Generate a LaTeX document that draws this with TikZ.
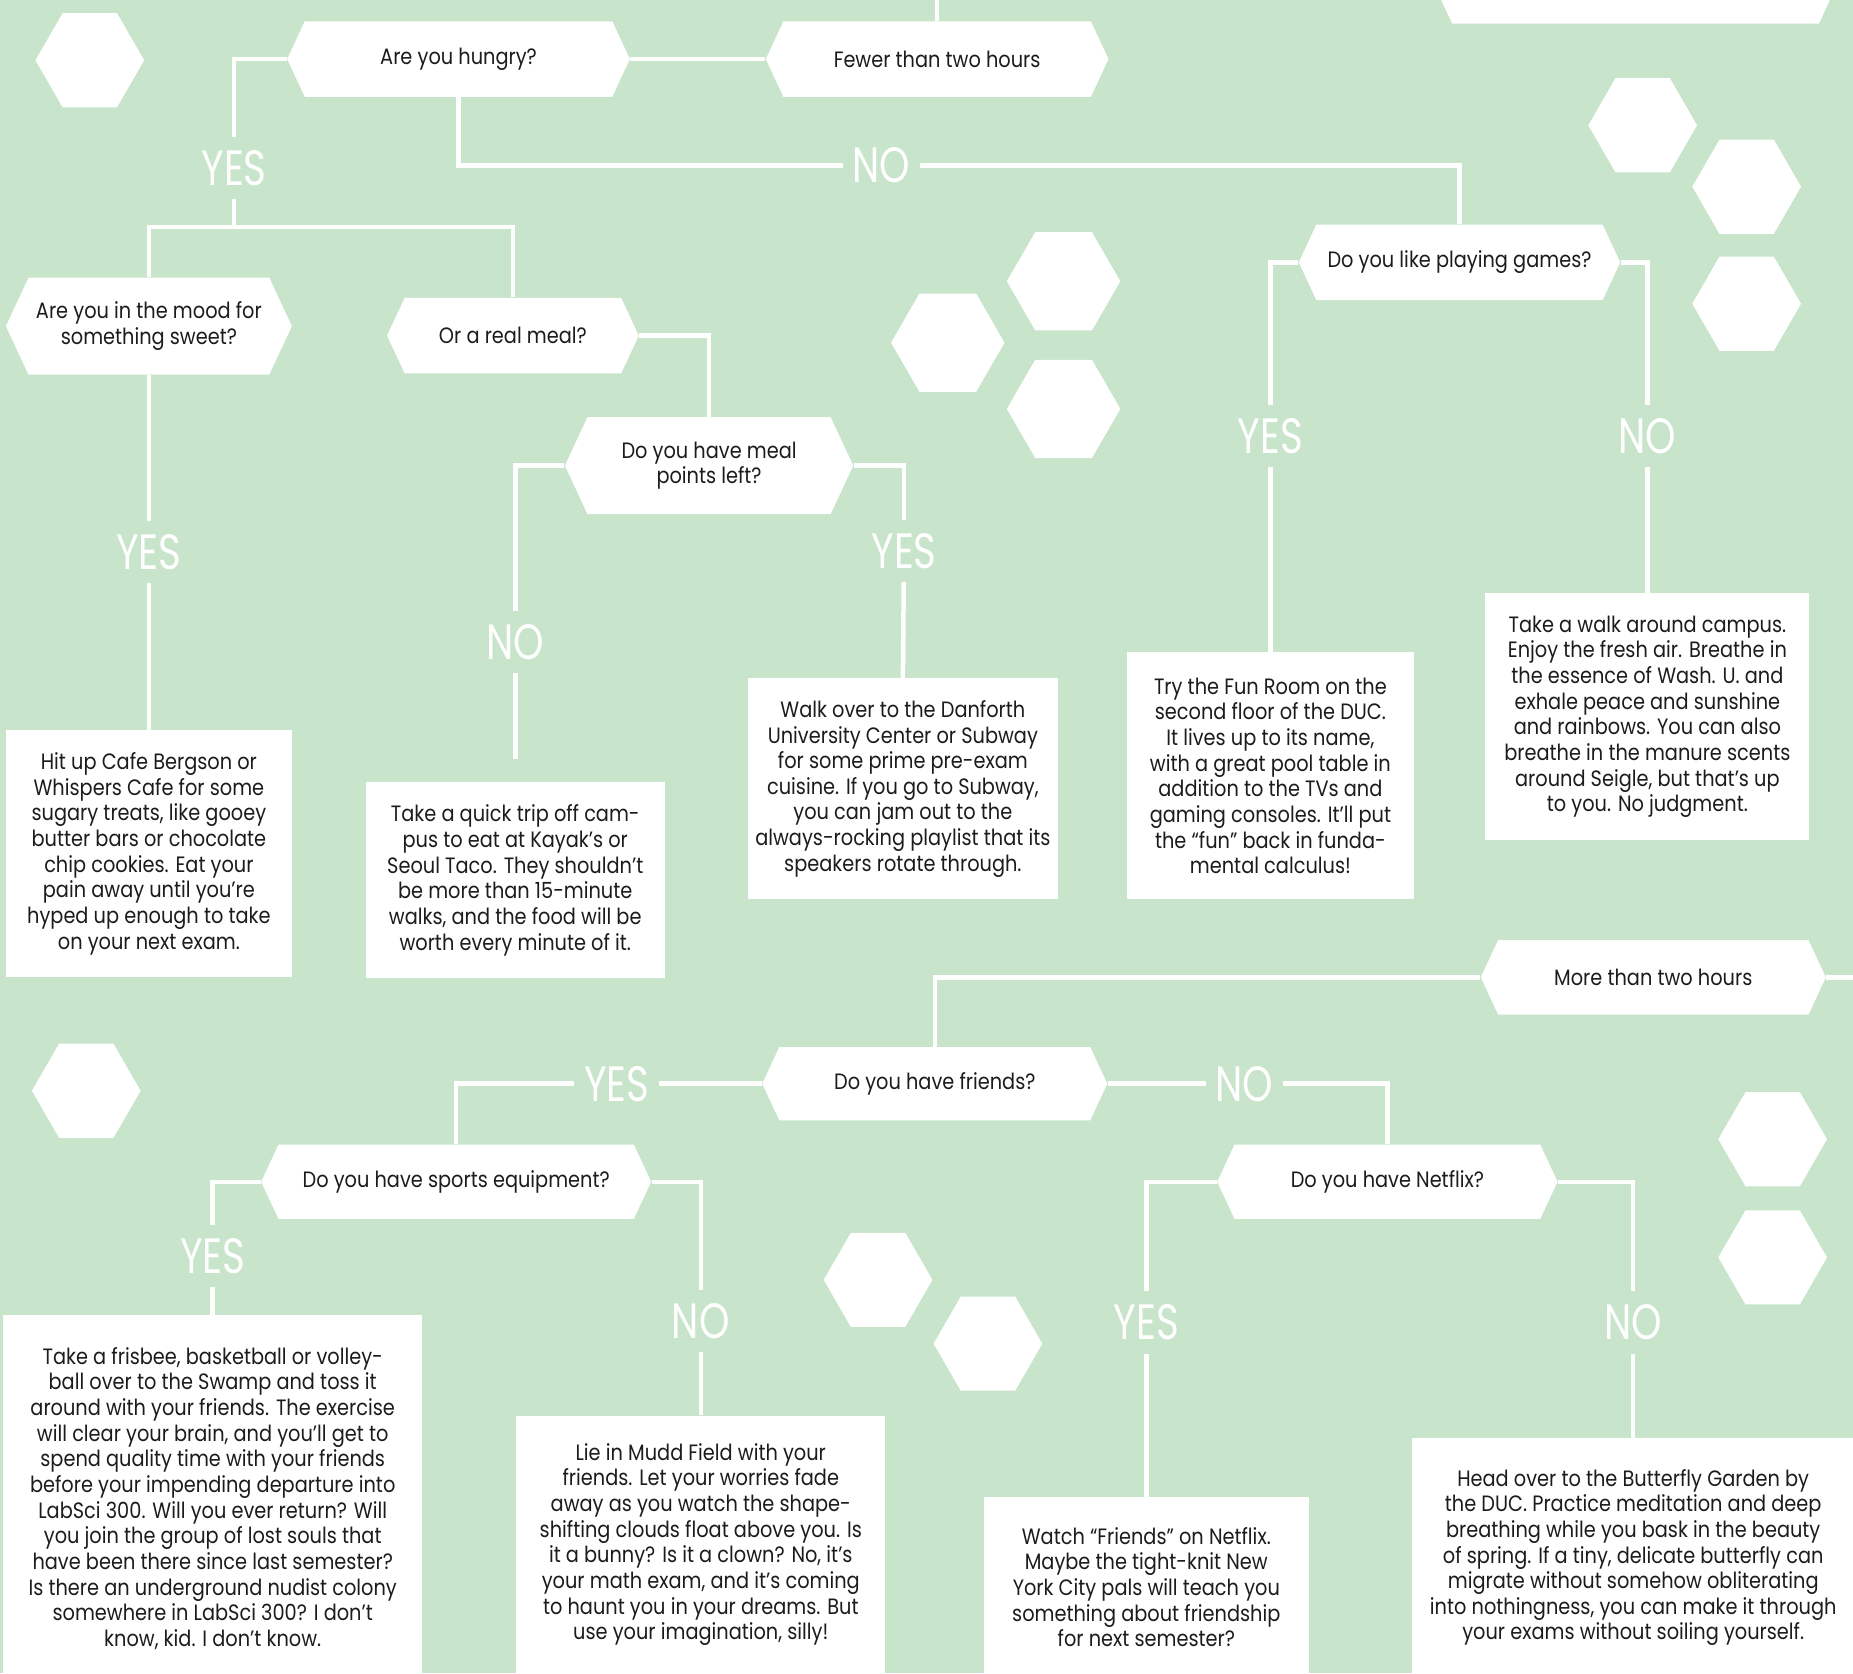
\documentclass[tikz,border=0pt]{standalone}
\usepackage{fontspec}
\setmainfont{Poppins}[FakeStretch=0.87]
\newfontfamily\thinfont{Poppins}[FakeStretch=0.78]
\usepackage{xcolor}
\usetikzlibrary{shapes.symbols,calc}
\definecolor{mint}{HTML}{C8E4CB}
\definecolor{ink}{HTML}{1E1B1C}

\begin{document}
\begin{tikzpicture}[x=0.5pt,y=-0.5pt,
    question/.style={signal, signal to=west and east, signal pointer angle=130,
      fill=white, text=ink, align=center, inner sep=0pt,
      font=\fontsize{9.4}{10.9}\selectfont},
    answer/.style={rectangle, fill=white, text=ink, align=center, inner sep=0pt,
      font=\fontsize{9.4}{10.85}\selectfont},
    reply/.style={text=white, inner xsep=4pt, inner ysep=5.5pt,
      font=\thinfont\fontsize{21}{21}\selectfont},
    link/.style={white, line width=1.9pt}]
      % Background
      \useasboundingbox (0,0) rectangle (1568,1416);
      \clip (0,0) rectangle (1568,1416);
      \fill[mint] (0,0) rectangle (1568,1416);

      % Loose hexagons
      \foreach \cx/\cy/\r in {76/51/46, 1390/106/46, 1478/158/46, 1478/257/46,
          900/238/48, 802/290/48, 900/346/48, 73/923/46,
          1500/964/46, 1500/1064/46, 743/1083/46, 836/1137/46}
        \fill[white] (\cx,\cy) +(0:\r) -- +(60:\r) -- +(120:\r) -- +(180:\r)
          -- +(240:\r) -- +(300:\r) -- cycle;

      % Questions
      \node[question, minimum width=171pt, minimum height=34pt] (topq) at (1384,-14) {};
      \node[question, minimum width=145pt, minimum height=32pt] (fewer) at (793,50) {Fewer than two hours};
      \node[question, minimum width=145pt, minimum height=32pt] (hungry) at (388,50) {Are you hungry?};
      \node[question, minimum width=121pt, minimum height=41pt] (sweet) at (126,276) {Are you in the mood for\\something sweet?};
      \node[question, minimum width=106.5pt, minimum height=32pt] (meal) at (434,284) {Or a real meal?};
      \node[question, minimum width=122pt, minimum height=41pt] (points) at (600,394) {Do you have meal\\points left?};
      \node[question, minimum width=136pt, minimum height=32pt] (games) at (1235,222) {Do you like playing games?};
      \node[question, minimum width=146pt, minimum height=31.5pt] (more) at (1399,827) {More than two hours};
      \node[question, minimum width=146pt, minimum height=31pt] (friends) at (791,917) {Do you have friends?};
      \node[question, minimum width=165pt, minimum height=31.5pt] (sports) at (386,1000) {Do you have sports equipment?};
      \node[question, minimum width=144pt, minimum height=31.5pt] (netflix) at (1174,1000) {Do you have Netflix?};

      % Answers
      \node[answer, minimum width=121pt, minimum height=104.5pt] (bergson) at (126,722.5)
        {Hit up Cafe Bergson or\\Whispers Cafe for some\\sugary treats, like gooey\\butter bars or chocolate\\chip cookies. Eat your\\pain away until you’re\\hyped up enough to take\\on your next exam.};
      \node[answer, minimum width=126.5pt, minimum height=83pt] (kayak) at (436,745)
        {Take a quick trip off cam-\\pus to eat at Kayak’s or\\Seoul Taco. They shouldn’t\\be more than 15-minute\\walks, and the food will be\\worth every minute of it.};
      \node[answer, minimum width=131pt, minimum height=93.5pt] (danforth) at (764,667.5)
        {Walk over to the Danforth\\University Center or Subway\\for some prime pre-exam\\cuisine. If you go to Subway,\\you can jam out to the\\always-rocking playlist that its\\speakers rotate through.};
      \node[answer, minimum width=121.5pt, minimum height=104.5pt] (funroom) at (1075,656.5)
        {Try the Fun Room on the\\second floor of the DUC.\\It lives up to its name,\\with a great pool table in\\addition to the TVs and\\gaming consoles. It’ll put\\the “fun” back in funda-\\mental calculus!};
      \node[answer, minimum width=137pt, minimum height=104.5pt] (walk) at (1394,606.5)
        {Take a walk around campus.\\Enjoy the fresh air. Breathe in\\the essence of Wash. U. and\\exhale peace and sunshine\\and rainbows. You can also\\breathe in the manure scents\\around Seigle, but that’s up\\to you. No judgment.};
      \node[answer, minimum width=177.5pt, minimum height=155pt] (frisbee) at (180,1268)
        {Take a frisbee, basketball or volley-\\ball over to the Swamp and toss it\\around with your friends. The exercise\\will clear your brain, and you’ll get to\\spend quality time with your friends\\before your impending departure into\\LabSci 300. Will you ever return? Will\\you join the group of lost souls that\\have been there since last semester?\\Is there an underground nudist colony\\somewhere in LabSci 300? I don’t\\know, kid. I don’t know.};
      \node[answer, minimum width=156pt, minimum height=109pt] (mudd) at (593,1307)
        {Lie in Mudd Field with your\\friends. Let your worries fade\\away as you watch the shape-\\shifting clouds float above you. Is\\it a bunny? Is it a clown? No, it’s\\your math exam, and it’s coming\\to haunt you in your dreams. But\\use your imagination, silly!};
      \node[answer, minimum width=137.5pt, minimum height=76pt] (watch) at (970,1343)
        {Watch “Friends” on Netflix.\\Maybe the tight-knit New\\York City pals will teach you\\something about friendship\\for next semester?};
      \node[answer, minimum width=187pt, minimum height=101pt] (butterfly) at (1382,1318)
        {Head over to the Butterfly Garden by\\the DUC. Practice meditation and deep\\breathing while you bask in the beauty\\of spring. If a tiny, delicate butterfly can\\migrate without somehow obliterating\\into nothingness, you can make it through\\your exams without soiling yourself.};

      % Labels
      \node[reply] (y1) at (198,142) {YES};
      \node[reply] (n1) at (746,140) {NO};
      \node[reply] (y2) at (126,467) {YES};
      \node[reply] (n2) at (436,543) {NO};
      \node[reply] (y3) at (765,466) {YES};
      \node[reply] (y4) at (1075,369) {YES};
      \node[reply] (n4) at (1394,369) {NO};
      \node[reply] (y5) at (522,917) {YES};
      \node[reply] (n5) at (1053,917) {NO};
      \node[reply] (y6) at (180,1063) {YES};
      \node[reply] (n6) at (593,1118) {NO};
      \node[reply] (y7) at (970,1119) {YES};
      \node[reply] (n7) at (1382,1119) {NO};

      \coordinate (fewerup) at (793,-5);
      \coordinate (j1) at (198,192);
      \coordinate (n2end) at (436,642);
      \coordinate (moreout) at (1575,827);

      % Connectors
      \draw[link] (fewer.north) -- (fewerup);
      \draw[link] (hungry.east) -- (fewer.west);
      \draw[link] (hungry.west) -| (y1);
      \draw[link] (y1) -- (j1);
      \draw[link] (sweet.north) |- (j1) -| (meal.north);
      \draw[link] (hungry.south) |- (n1);
      \draw[link] (n1) -| (games.north);
      \draw[link] (sweet.south) -- (y2);
      \draw[link] (y2) -- (bergson.north);
      \draw[link] (meal.east) -| (points.north);
      \draw[link] (points.west) -| (n2);
      \draw[link] (n2) -- (n2end);
      \draw[link] (points.east) -| (y3);
      \draw[link] (y3) -- (danforth.north);
      \draw[link] (games.west) -| (y4);
      \draw[link] (y4) -- (funroom.north);
      \draw[link] (games.east) -| (n4);
      \draw[link] (n4) -- (walk.north);
      \draw[link] (more.east) -- (moreout);
      \draw[link] (more.west) -| (friends.north);
      \draw[link] (friends.west) -- (y5);
      \draw[link] (y5) -| (sports.north);
      \draw[link] (friends.east) -- (n5);
      \draw[link] (n5) -| (netflix.north);
      \draw[link] (sports.west) -| (y6);
      \draw[link] (y6) -- (frisbee.north);
      \draw[link] (sports.east) -| (n6);
      \draw[link] (n6) -- (mudd.north);
      \draw[link] (netflix.west) -| (y7);
      \draw[link] (y7) -- (watch.north);
      \draw[link] (netflix.east) -| (n7);
      \draw[link] (n7) -- (butterfly.north);
    \end{tikzpicture}
\end{document}
